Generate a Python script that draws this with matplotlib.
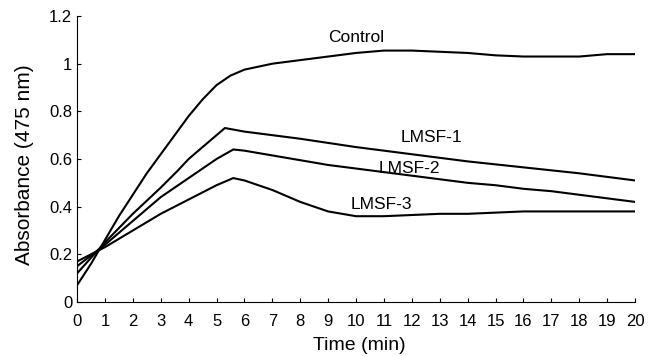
import numpy as np
import matplotlib.pyplot as plt

plt.rcParams['font.family'] = ['Liberation Sans', 'DejaVu Sans']

# Данные
t_control = [0, 0.5, 1, 1.5, 2, 2.5, 3, 3.5, 4, 4.5, 5, 5.5, 6, 7, 8, 9, 10, 11, 12, 13, 14, 15, 16, 17, 18, 19, 20]
control = [0.07, 0.16, 0.26, 0.36, 0.45, 0.54, 0.62, 0.70, 0.78, 0.85, 0.91, 0.95, 0.975, 1.0, 1.015, 1.03, 1.045,
           1.055, 1.055, 1.05, 1.045, 1.035, 1.03, 1.03, 1.03, 1.04, 1.04]

t_lmsf1 = [0, 1, 2, 3, 3.6, 4, 5, 5.3, 6, 8, 10, 12, 14, 16, 18, 20]
lmsf1 = [0.12, 0.25, 0.37, 0.48, 0.55, 0.60, 0.70, 0.73, 0.715, 0.685, 0.65, 0.62, 0.59, 0.565, 0.54, 0.51]

t_lmsf2 = [0, 1, 2, 3, 4, 5, 5.6, 6, 7, 8, 9, 10, 11, 12, 13, 14, 15, 16, 17, 18, 19, 20]
lmsf2 = [0.15, 0.24, 0.34, 0.44, 0.52, 0.60, 0.64, 0.635, 0.615, 0.595, 0.575, 0.56, 0.545, 0.53, 0.515, 0.50,
         0.49, 0.475, 0.465, 0.45, 0.435, 0.42]

t_lmsf3 = [0, 1, 2, 3, 4, 5, 5.6, 6, 7, 8, 9, 10, 11, 12, 13, 14, 15, 16, 17, 18, 19, 20]
lmsf3 = [0.17, 0.23, 0.30, 0.37, 0.43, 0.49, 0.52, 0.51, 0.47, 0.42, 0.38, 0.36, 0.36, 0.365, 0.37, 0.37,
         0.375, 0.38, 0.38, 0.38, 0.38, 0.38]

labels = ["Control", "LMSF-1", "LMSF-2", "LMSF-3"]
label_pos = [(10.0, 1.11), (12.7, 0.69), (11.9, 0.56), (10.9, 0.41)]

fig = plt.figure(figsize=(6.5, 3.56), dpi=100)
ax = fig.add_axes([0.1185, 0.1517, 0.8585, 0.8033])

for t, y in [(t_control, control), (t_lmsf1, lmsf1), (t_lmsf2, lmsf2), (t_lmsf3, lmsf3)]:
    ax.plot(t, y, color="black", linewidth=1.5)

for lab, (x, y) in zip(labels, label_pos):
    ax.text(x, y, lab, fontsize=12.5, ha="center", va="center")

ax.set_xlim(0, 20)
ax.set_ylim(0, 1.2)
ax.set_xticks(np.arange(0, 21, 1))
ax.set_yticks([0, 0.2, 0.4, 0.6, 0.8, 1.0, 1.2])
ax.set_yticklabels(["0", "0.2", "0.4", "0.6", "0.8", "1", "1.2"])
ax.tick_params(direction="in", length=3, width=0.8, labelsize=12)
ax.tick_params(axis="x", pad=9)
ax.tick_params(axis="y", pad=3.5)
ax.spines["top"].set_visible(False)
ax.spines["right"].set_visible(False)
ax.set_xlabel("Time (min)", fontsize=14)
ax.set_ylabel("Absorbance (475 nm)", fontsize=15)
ax.xaxis.set_label_coords(0.505, -0.122)
ax.yaxis.set_label_coords(-0.077, 0.479)

fig.savefig("out.png", dpi=100)
